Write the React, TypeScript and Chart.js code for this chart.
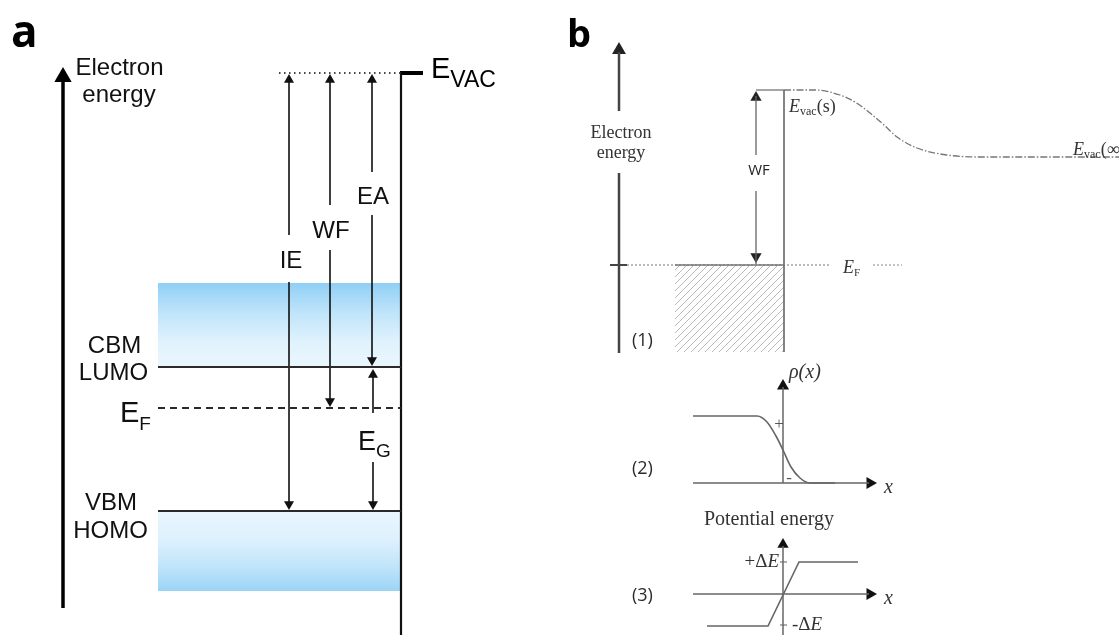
import React, { useEffect, useRef } from 'react';
import { Chart, registerables } from 'chart.js';

Chart.register(...registerables);

const W = 1119;
const H = 635;

// ---------------- Panel a : band diagram (diagram units, y grows downward) ----------------
const levelNamesA = ['E_VAC', 'CBM/LUMO', 'E_F', 'VBM/HOMO'];
const levelYA = [73, 367, 408, 511];
const levelStartA = [279, 158, 158, 158];
const levelEndA = [401, 401, 401, 401];
const bandTopA = [283, 511];
const bandBottomA = [367, 591];
const arrowNamesA = ['IE', 'WF', 'EA', 'E_G'];
const arrowXA = [289, 330, 372, 373];
const arrowFromA = [73, 73, 73, 368];
const arrowToA = [511, 408, 367, 511];
const arrowGapTopA = [235, 205, 172, 413];
const arrowGapBottomA = [282, 250, 215, 462];
const axisA = { x: 63, bottom: 608, tip: 67 };
const wallA = { x: 401, top: 73, bottom: 635, barEnd: 423 };

// ---------------- Panel b (1) : metal surface ----------------
const vacCurveX = [784, 815, 840, 855, 870, 884, 897, 917, 947, 980, 1119];
const vacCurveY = [90, 90, 95, 102, 113, 125, 137, 148, 155, 157, 157];
const fermiYB = 265;
const wallB = { x: 784, top: 90, bottom: 352, left: 675, wfX: 756 };
const axisB = { x: 619, tip: 42, upperEnd: 111, lowerStart: 173, bottom: 353 };
const wfSegB = [[90, 155], [185, 264]];

// ---------------- Panel b (2) : charge density ----------------
const rhoX = [693, 757, 767, 776, 783, 791, 800, 810, 835];
const rhoY = [416, 416, 422, 436, 450, 467, 478, 483, 483];
const axes2 = { x0: 783, y0: 483, left: 693, tipX: 877, tipY: 379 };

// ---------------- Panel b (3) : potential energy ----------------
const potX = [707, 768, 799, 858];
const potY = [626, 626, 562, 562];
const axes3 = { x0: 783, y0: 594, left: 693, tipX: 877, tipY: 538, bottom: 635 };
const deltaTicksY = [562, 625];

type P = { x: number; y: number };

const SANS = "'Liberation Sans', Arial, sans-serif";
const SERIF = "'Liberation Serif', 'Times New Roman', serif";
const OPEN = "'Open Sans', sans-serif";

type Seg = { t: string; font: string; dy?: number };
type Label = { segs: Seg[]; x: number; y: number; align?: 'left' | 'center' | 'right'; color: string };

const cA = '#111111';
const cB = '#333333';
const L = (t: string, font: string, x: number, y: number, color: string, align: 'left' | 'center' | 'right' = 'center'): Label => ({
  segs: [{ t, font }], x, y, align, color,
});

const labels: Label[] = [
  L('a', `bold 44px ${OPEN}`, 11, 47, '#000', 'left'),
  L('Electron', `24px ${SANS}`, 119.5, 75, cA),
  L('energy', `24px ${SANS}`, 119, 102, cA),
  L('IE', `24px ${SANS}`, 291, 268, cA),
  L('WF', `24px ${SANS}`, 331, 238, cA),
  L('EA', `24px ${SANS}`, 373, 204, cA),
  L('CBM', `24px ${SANS}`, 114.5, 353, cA),
  L('LUMO', `24px ${SANS}`, 113.5, 380, cA),
  L('VBM', `24px ${SANS}`, 111, 510, cA),
  L('HOMO', `24px ${SANS}`, 110.5, 538, cA),
  { segs: [{ t: 'E', font: `29px ${SANS}` }, { t: 'F', font: `19px ${SANS}`, dy: 8 }], x: 120, y: 422, align: 'left', color: cA },
  { segs: [{ t: 'E', font: `27px ${SANS}` }, { t: 'G', font: `19px ${SANS}`, dy: 7 }], x: 358, y: 450, align: 'left', color: cA },
  { segs: [{ t: 'E', font: `29px ${SANS}` }, { t: 'VAC', font: `23px ${SANS}`, dy: 9 }], x: 431, y: 78, align: 'left', color: '#000' },

  L('b', `bold 38px ${OPEN}`, 567, 47, '#000', 'left'),
  L('Electron', `18px ${SERIF}`, 621, 138, cB),
  L('energy', `18px ${SERIF}`, 621, 158, cB),
  L('WF', `15px ${OPEN}`, 759, 175, '#222'),
  { segs: [{ t: 'E', font: `italic 18px ${SERIF}` }, { t: 'vac', font: `12px ${SERIF}`, dy: 3 }, { t: '(s)', font: `18px ${SERIF}` }], x: 789, y: 112, align: 'left', color: cB },
  { segs: [{ t: 'E', font: `italic 18px ${SERIF}` }, { t: 'vac', font: `12px ${SERIF}`, dy: 3 }, { t: '(∞)', font: `18px ${SERIF}` }], x: 1073, y: 155, align: 'left', color: cB },
  { segs: [{ t: 'E', font: `italic 18px ${SERIF}` }, { t: 'F', font: `11px ${SERIF}`, dy: 3 }], x: 843, y: 273, align: 'left', color: cB },
  L('(1)', `18px ${OPEN}`, 632, 346, '#2a2a2a', 'left'),
  L('(2)', `18px ${OPEN}`, 632, 474, '#2a2a2a', 'left'),
  L('(3)', `18px ${OPEN}`, 632, 601, '#2a2a2a', 'left'),
  { segs: [{ t: 'ρ(x)', font: `italic 20px ${SERIF}` }], x: 789, y: 378, align: 'left', color: cB },
  { segs: [{ t: 'x', font: `italic 20px ${SERIF}` }], x: 884, y: 493, align: 'left', color: cB },
  { segs: [{ t: 'x', font: `italic 20px ${SERIF}` }], x: 884, y: 604, align: 'left', color: cB },
  L('Potential energy', `20px ${SERIF}`, 769, 525, cB),
  { segs: [{ t: '+Δ', font: `19px ${SERIF}` }, { t: 'E', font: `italic 19px ${SERIF}` }], x: 779, y: 567, align: 'right', color: cB },
  { segs: [{ t: '-Δ', font: `19px ${SERIF}` }, { t: 'E', font: `italic 19px ${SERIF}` }], x: 792, y: 630, align: 'left', color: cB },
  L('+', `17px ${SERIF}`, 779, 429, '#555'),
  L('-', `17px ${SERIF}`, 789, 483, '#555'),
];

const seg = (pts: P[], color: any, width: number, dash: number[] = [], extra: any = {}) => ({
  data: pts,
  borderColor: color,
  borderWidth: width,
  borderDash: dash,
  pointRadius: 0,
  pointHoverRadius: 0,
  fill: false,
  tension: 0,
  ...extra,
});

type Dir = 'up' | 'down' | 'right';
const heads = (tips: [number, number, Dir][], r: number, color: string) => ({
  data: tips.map(([x, y, d]) => (d === 'up' ? { x, y: y + r } : d === 'down' ? { x, y: y - r } : { x: x - r, y })),
  showLine: false,
  pointStyle: 'triangle',
  pointRadius: r,
  pointHoverRadius: r,
  pointRotation: tips.map(([, , d]) => (d === 'up' ? 0 : d === 'down' ? 180 : 90)),
  pointBackgroundColor: color,
  pointBorderColor: color,
  pointBorderWidth: 0,
  borderColor: color,
});

const bandGradient = (top: number, bottom: number, stops: [number, string][]) => (ctx: any) => {
  const chart = ctx.chart;
  const ys = chart.scales && chart.scales.y;
  let p0 = ys ? ys.getPixelForValue(top) : NaN;
  let p1 = ys ? ys.getPixelForValue(bottom) : NaN;
  if (!isFinite(p0) || !isFinite(p1)) {
    p0 = top;
    p1 = bottom;
  }
  const g = chart.ctx.createLinearGradient(0, p0, 0, p1);
  stops.forEach(([o, c]) => g.addColorStop(o, c));
  return g;
};

const textPlugin = {
  id: 'diagramText',
  afterDatasetsDraw(chart: any) {
    const { ctx } = chart;
    const xs = chart.scales.x;
    const ys = chart.scales.y;
    ctx.save();
    labels.forEach((lb) => {
      ctx.fillStyle = lb.color;
      ctx.textBaseline = 'alphabetic';
      ctx.textAlign = 'left';
      let total = 0;
      lb.segs.forEach((s) => {
        ctx.font = s.font;
        total += ctx.measureText(s.t).width;
      });
      let x = xs.getPixelForValue(lb.x);
      if (lb.align === 'center') x -= total / 2;
      if (lb.align === 'right') x -= total;
      const y = ys.getPixelForValue(lb.y);
      lb.segs.forEach((s) => {
        ctx.font = s.font;
        ctx.fillText(s.t, x, y + (s.dy || 0));
        x += ctx.measureText(s.t).width;
      });
    });
    ctx.restore();
  },
};

function buildDatasets(hatch: CanvasPattern | string) {
  const ds: any[] = [];

  const bandStops: [number, string][][] = [
    [[0, '#8fcff6'], [0.35, '#bfe4fa'], [0.7, '#e0f2fd'], [1, '#e9f6fe']],
    [[0, '#e9f6fe'], [0.35, '#def1fd'], [0.7, '#c0e4fa'], [1, '#9bd4f6']],
  ];
  bandTopA.forEach((t, i) => {
    ds.push(
      seg([{ x: 158, y: t }, { x: 400, y: t }], 'rgba(0,0,0,0)', 1, [], {
        fill: { value: bandBottomA[i] },
        backgroundColor: bandGradient(t, bandBottomA[i], bandStops[i]),
        order: 10,
      }),
    );
  });

  ds.push(seg([{ x: levelStartA[0], y: levelYA[0] }, { x: levelEndA[0], y: levelYA[0] }], '#444', 1.8, [1.5, 3.5]));
  ds.push(seg([{ x: levelStartA[1], y: levelYA[1] }, { x: levelEndA[1], y: levelYA[1] }], '#2a2a2a', 1.8));
  ds.push(seg([{ x: levelStartA[2], y: levelYA[2] }, { x: levelEndA[2], y: levelYA[2] }], '#2a2a2a', 1.8, [7, 5]));
  ds.push(seg([{ x: levelStartA[3], y: levelYA[3] }, { x: levelEndA[3], y: levelYA[3] }], '#2a2a2a', 1.8));
  ds.push(seg([{ x: wallA.x - 1, y: wallA.top }, { x: wallA.barEnd, y: wallA.top }], '#000', 4));
  ds.push(seg([{ x: wallA.x, y: wallA.top }, { x: wallA.x, y: wallA.bottom }], '#111', 2.2));
  ds.push(seg([{ x: axisA.x, y: axisA.bottom }, { x: axisA.x, y: axisA.tip + 12 }], '#000', 3.5));
  ds.push(heads([[axisA.x, axisA.tip, 'up']], 10, '#000'));

  const aTips: [number, number, Dir][] = [];
  arrowXA.forEach((x, i) => {
    ds.push(seg([{ x, y: arrowFromA[i] + 4 }, { x, y: arrowGapTopA[i] }], '#111', 1.6));
    ds.push(seg([{ x, y: arrowGapBottomA[i] }, { x, y: arrowToA[i] - 4 }], '#111', 1.6));
    aTips.push([x, arrowFromA[i] + 1, 'up']);
    aTips.push([x, arrowToA[i] - 1, 'down']);
  });
  ds.push(heads(aTips, 5.8, '#111'));

  ds.push(seg([{ x: axisB.x, y: axisB.tip + 10 }, { x: axisB.x, y: axisB.upperEnd }], '#444', 2.5));
  ds.push(seg([{ x: axisB.x, y: axisB.lowerStart }, { x: axisB.x, y: axisB.bottom }], '#444', 2.5));
  ds.push(heads([[axisB.x, axisB.tip, 'up']], 8, '#222'));
  ds.push(seg([{ x: 610, y: fermiYB }, { x: 627, y: fermiYB }], '#444', 2));
  ds.push(seg([{ x: 627, y: fermiYB }, { x: 830, y: fermiYB }], '#777', 1.2, [2, 2]));
  ds.push(seg([{ x: 873, y: fermiYB }, { x: 902, y: fermiYB }], '#888', 1.2, [2, 2]));
  ds.push(
    seg([{ x: wallB.left, y: fermiYB }, { x: wallB.x, y: fermiYB }], '#777', 1.5, [], {
      fill: { value: wallB.bottom },
      backgroundColor: hatch,
      order: 10,
    }),
  );
  ds.push(seg([{ x: wallB.x, y: wallB.top }, { x: wallB.x, y: wallB.bottom }], '#666', 1.6));
  ds.push(seg([{ x: wallB.wfX, y: wallB.top }, { x: wallB.x, y: wallB.top }], '#888', 1.5));
  ds.push(
    seg(vacCurveX.map((x, i) => ({ x, y: vacCurveY[i] })), '#777', 1.3, [7, 2, 1.5, 2], {
      cubicInterpolationMode: 'monotone',
    }),
  );
  wfSegB.forEach(([a, b]) => ds.push(seg([{ x: wallB.wfX, y: a + 6 }, { x: wallB.wfX, y: b }], '#666', 1.3)));
  ds.push(heads([[wallB.wfX, wallB.top + 1, 'up'], [wallB.wfX, fermiYB - 2, 'down']], 6.5, '#222'));

  ds.push(seg([{ x: axes2.x0, y: axes2.y0 }, { x: axes2.x0, y: axes2.tipY + 8 }], '#666', 1.5));
  ds.push(seg([{ x: axes2.left, y: axes2.y0 }, { x: axes2.tipX - 8, y: axes2.y0 }], '#666', 1.5));
  ds.push(
    seg(rhoX.map((x, i) => ({ x, y: rhoY[i] })), '#666', 1.6, [], { cubicInterpolationMode: 'monotone' }),
  );
  ds.push(heads([[axes2.x0, axes2.tipY, 'up']], 7, '#111'));
  ds.push(heads([[axes2.tipX, axes2.y0, 'right']], 7, '#111'));

  ds.push(seg([{ x: axes3.x0, y: axes3.bottom }, { x: axes3.x0, y: axes3.tipY + 8 }], '#666', 1.5));
  ds.push(seg([{ x: axes3.left, y: axes3.y0 }, { x: axes3.tipX - 8, y: axes3.y0 }], '#666', 1.5));
  ds.push(seg(potX.map((x, i) => ({ x, y: potY[i] })), '#666', 1.6));
  deltaTicksY.forEach((y) => ds.push(seg([{ x: 780, y }, { x: 787, y }], '#777', 1.2)));
  ds.push(heads([[axes3.x0, axes3.tipY, 'up']], 6.5, '#111'));
  ds.push(heads([[axes3.tipX, axes3.y0, 'right']], 7, '#111'));

  return ds;
}

function makeHatch(ctx: CanvasRenderingContext2D): CanvasPattern | string {
  const c = document.createElement('canvas');
  c.width = 7;
  c.height = 7;
  const g = c.getContext('2d');
  if (!g) return 'rgba(150,150,150,0.3)';
  g.strokeStyle = 'rgba(120,120,120,0.65)';
  g.lineWidth = 0.8;
  g.beginPath();
  g.moveTo(-1, 8);
  g.lineTo(8, -1);
  g.stroke();
  return ctx.createPattern(c, 'repeat') || 'rgba(150,150,150,0.3)';
}

export default function App() {
  const ref = useRef<HTMLCanvasElement | null>(null);
  useEffect(() => {
    document.body.style.margin = '0';
    document.body.style.background = '#ffffff';
    const canvas = ref.current;
    if (!canvas) return;
    const ctx = canvas.getContext('2d');
    if (!ctx) return;
    const hatch = makeHatch(ctx);
    const chart = new Chart(ctx, {
      type: 'line',
      data: { datasets: buildDatasets(hatch) },
      options: {
        responsive: false,
        animation: false,
        events: [],
        layout: { padding: 0, autoPadding: false },
        plugins: { legend: { display: false }, tooltip: { enabled: false } },
        scales: {
          x: { type: 'linear', min: 0, max: W, display: false },
          y: { type: 'linear', min: 0, max: H, reverse: true, display: false },
        },
      },
      plugins: [textPlugin],
    } as any);
    return () => chart.destroy();
  }, []);
  return (
    <div style={{ width: W, height: H, background: '#fff' }}>
      <canvas ref={ref} width={W} height={H} style={{ display: 'block', width: W, height: H }} />
    </div>
  );
}
